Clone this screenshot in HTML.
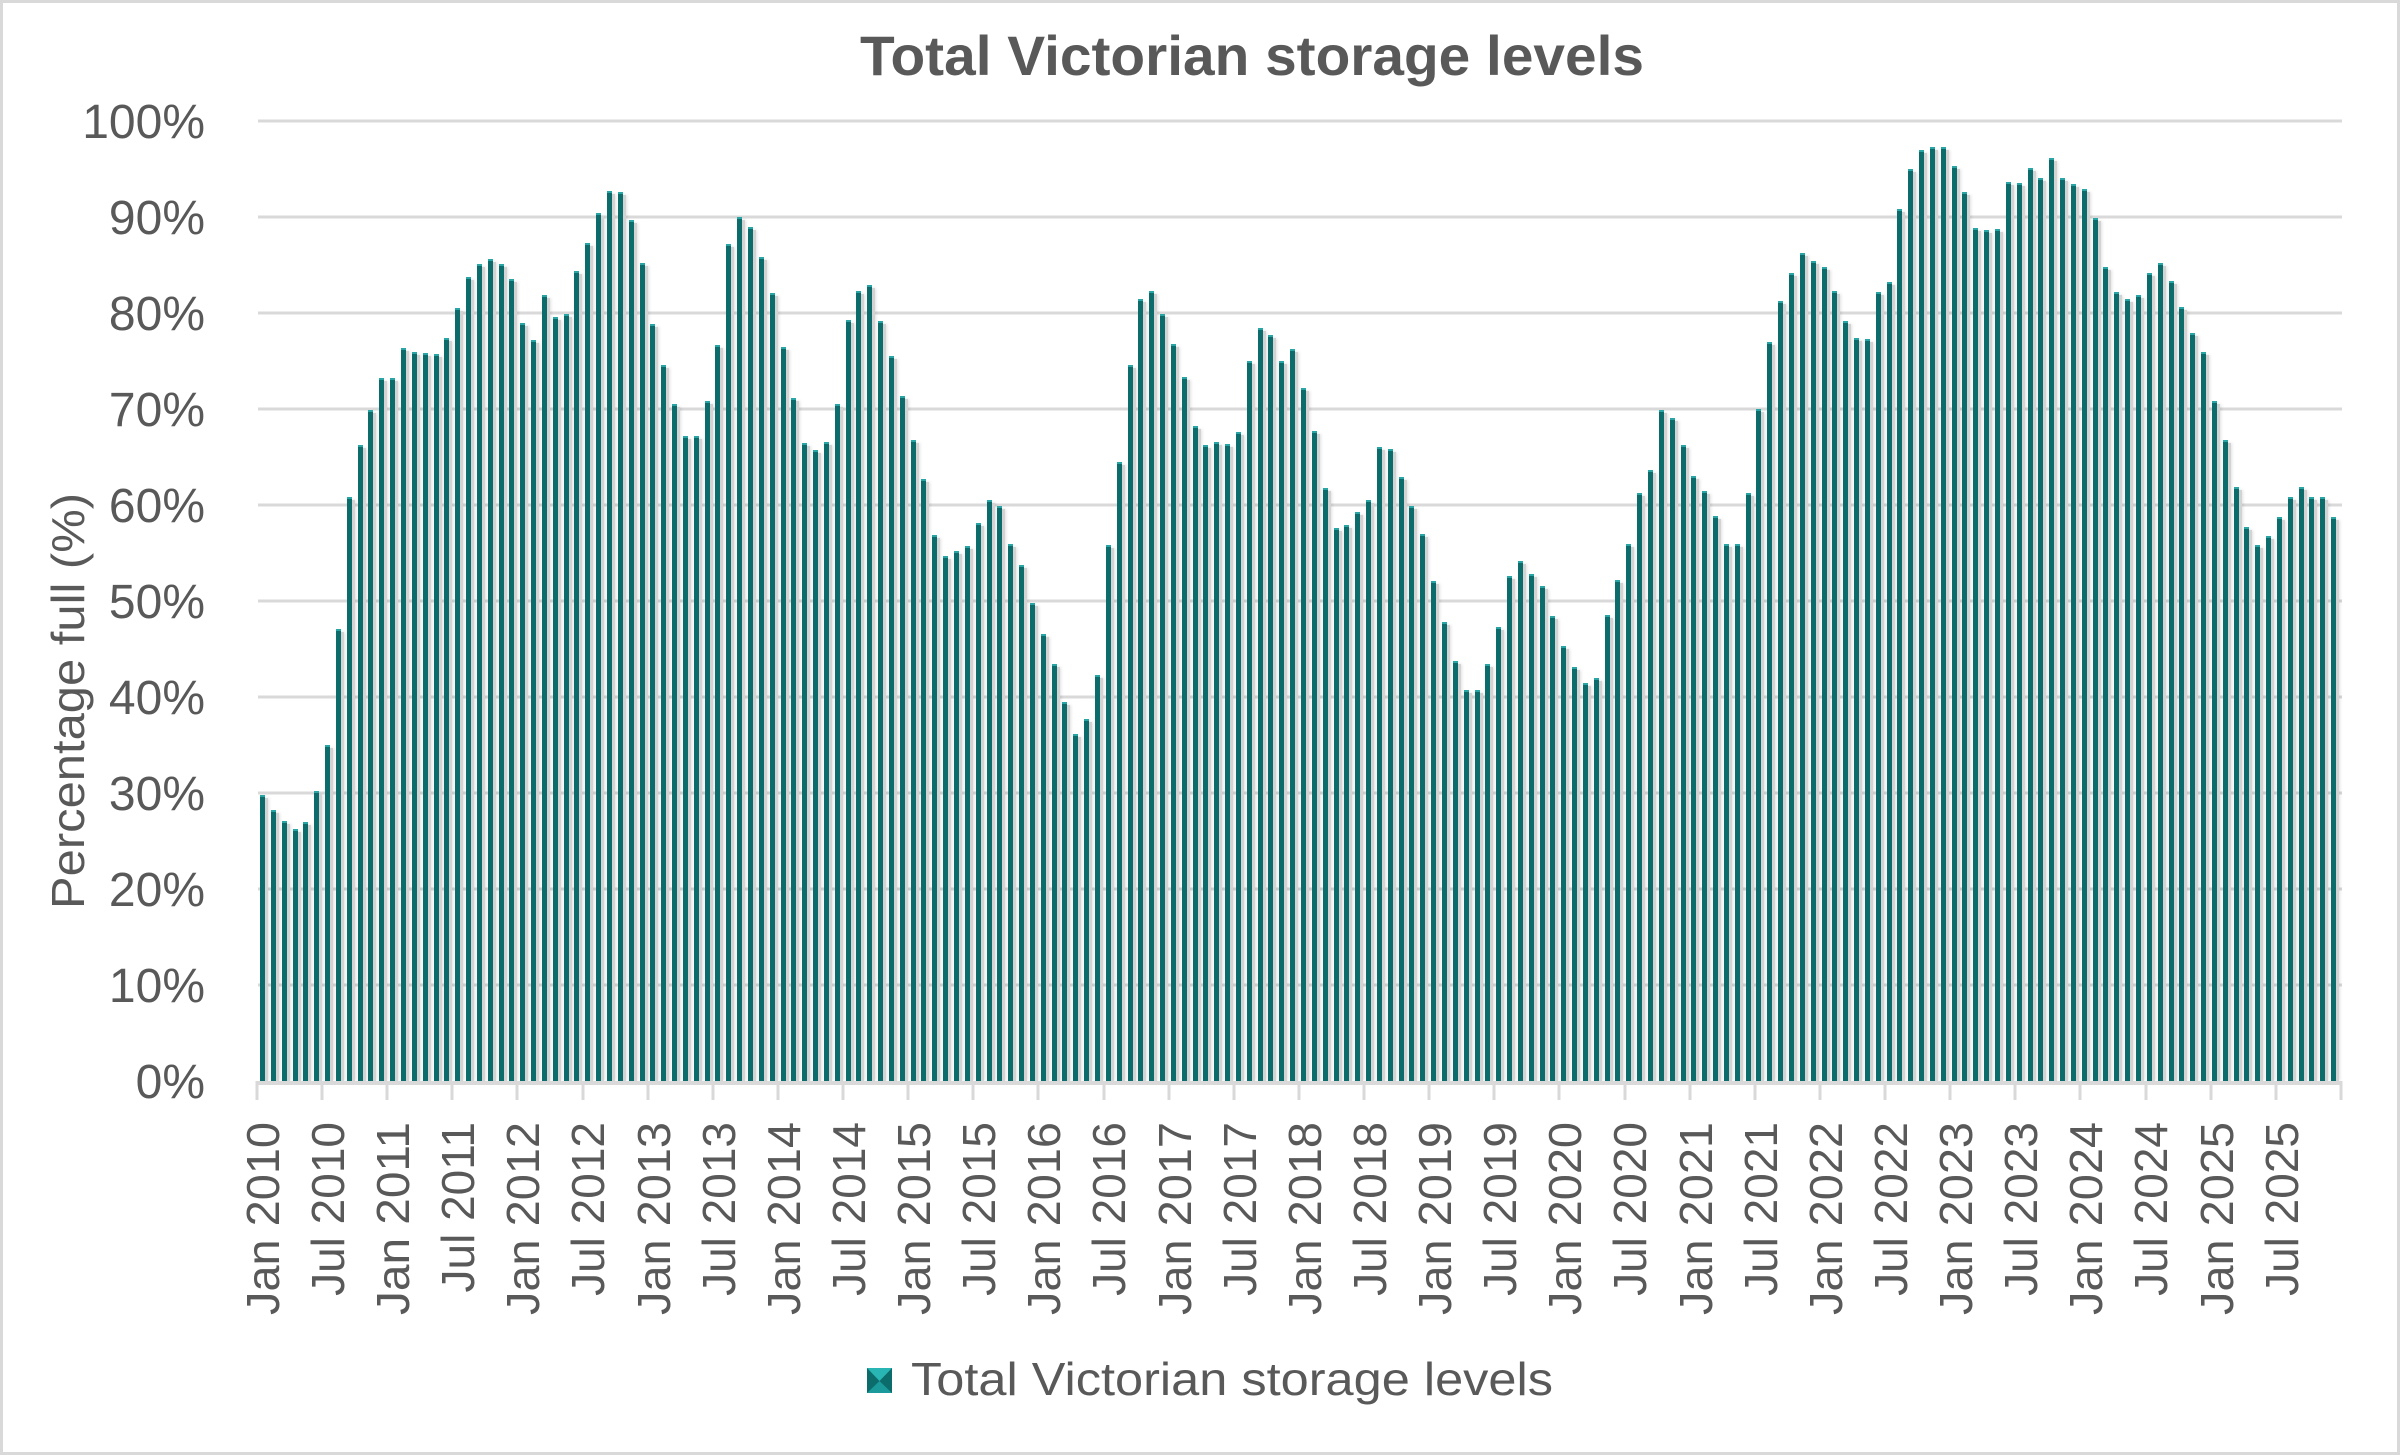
<!DOCTYPE html>
<html><head><meta charset="utf-8"><style>
html,body{margin:0;padding:0;background:#fff;}
#wrap{position:relative;width:2400px;height:1455px;overflow:hidden;background:#fff;}
svg{position:absolute;left:0;top:0;}
#bars{position:absolute;left:257px;top:121px;width:2083px;height:960px;display:flex;align-items:flex-end;}
#bars i{flex:1 1 0;position:relative;display:block;}
#bars i::after{content:"";position:absolute;left:4px;width:7px;top:3px;bottom:0;background:#d3d3d3;box-shadow:1px 0 3px rgba(0,0,0,0.12);}
#bars i::before{content:"";position:absolute;left:3px;width:5px;top:0;bottom:0;background:#0c6b6b;border-top:2px solid #2aa5a5;box-sizing:border-box;z-index:2;}
</style></head><body><div id="wrap">
<svg width="2400" height="1455" xmlns="http://www.w3.org/2000/svg">
<rect x="1.5" y="1.5" width="2397" height="1452" fill="#fff" stroke="#d9d9d9" stroke-width="3"/>
<g stroke="#d9d9d9" stroke-width="3">
<line x1="258" x2="2342" y1="121" y2="121"/><line x1="258" x2="2342" y1="217" y2="217"/>
<line x1="258" x2="2342" y1="313" y2="313"/><line x1="258" x2="2342" y1="409" y2="409"/>
<line x1="258" x2="2342" y1="505" y2="505"/><line x1="258" x2="2342" y1="601" y2="601"/>
<line x1="258" x2="2342" y1="697" y2="697"/><line x1="258" x2="2342" y1="793" y2="793"/>
<line x1="258" x2="2342" y1="889" y2="889"/><line x1="258" x2="2342" y1="985" y2="985"/>
</g>
<text x="1252" y="75" text-anchor="middle" font-family="Liberation Sans, sans-serif" font-weight="bold" font-size="56" fill="#595959" textLength="784" lengthAdjust="spacingAndGlyphs">Total Victorian storage levels</text>
<g font-family="Liberation Sans, sans-serif" font-size="48" fill="#595959" text-anchor="end">
<text x="205" y="138">100%</text><text x="205" y="234">90%</text><text x="205" y="330">80%</text>
<text x="205" y="426">70%</text><text x="205" y="522">60%</text><text x="205" y="618">50%</text>
<text x="205" y="714">40%</text><text x="205" y="810">30%</text><text x="205" y="906">20%</text>
<text x="205" y="1002">10%</text><text x="205" y="1098">0%</text>
</g>
<text transform="translate(84,701) rotate(-90)" text-anchor="middle" font-family="Liberation Sans, sans-serif" font-size="46" fill="#595959" textLength="416" lengthAdjust="spacingAndGlyphs">Percentage full (%)</text>
<text x="911" y="1395" font-family="Liberation Sans, sans-serif" font-size="46" fill="#595959" textLength="642" lengthAdjust="spacingAndGlyphs">Total Victorian storage levels</text>
<rect x="867" y="1368" width="25" height="25" fill="#0c6b6b"/>
<polygon points="867,1368 892,1368 879.5,1381" fill="#2ab5b5"/>
<polygon points="867,1393 892,1393 879.5,1381" fill="#1a9a9a"/>
<g font-family="Liberation Sans, sans-serif" font-size="46" fill="#595959" text-anchor="end">
<text transform="translate(279,1122) rotate(-90)" textLength="193" lengthAdjust="spacingAndGlyphs">Jan 2010</text>
<text transform="translate(344,1122) rotate(-90)">Jul 2010</text>
<text transform="translate(409,1122) rotate(-90)" textLength="193" lengthAdjust="spacingAndGlyphs">Jan 2011</text>
<text transform="translate(474,1122) rotate(-90)">Jul 2011</text>
<text transform="translate(539,1122) rotate(-90)" textLength="193" lengthAdjust="spacingAndGlyphs">Jan 2012</text>
<text transform="translate(604,1122) rotate(-90)">Jul 2012</text>
<text transform="translate(670,1122) rotate(-90)" textLength="193" lengthAdjust="spacingAndGlyphs">Jan 2013</text>
<text transform="translate(735,1122) rotate(-90)">Jul 2013</text>
<text transform="translate(800,1122) rotate(-90)" textLength="193" lengthAdjust="spacingAndGlyphs">Jan 2014</text>
<text transform="translate(865,1122) rotate(-90)">Jul 2014</text>
<text transform="translate(930,1122) rotate(-90)" textLength="193" lengthAdjust="spacingAndGlyphs">Jan 2015</text>
<text transform="translate(995,1122) rotate(-90)">Jul 2015</text>
<text transform="translate(1060,1122) rotate(-90)" textLength="193" lengthAdjust="spacingAndGlyphs">Jan 2016</text>
<text transform="translate(1125,1122) rotate(-90)">Jul 2016</text>
<text transform="translate(1191,1122) rotate(-90)" textLength="193" lengthAdjust="spacingAndGlyphs">Jan 2017</text>
<text transform="translate(1256,1122) rotate(-90)">Jul 2017</text>
<text transform="translate(1321,1122) rotate(-90)" textLength="193" lengthAdjust="spacingAndGlyphs">Jan 2018</text>
<text transform="translate(1386,1122) rotate(-90)">Jul 2018</text>
<text transform="translate(1451,1122) rotate(-90)" textLength="193" lengthAdjust="spacingAndGlyphs">Jan 2019</text>
<text transform="translate(1516,1122) rotate(-90)">Jul 2019</text>
<text transform="translate(1581,1122) rotate(-90)" textLength="193" lengthAdjust="spacingAndGlyphs">Jan 2020</text>
<text transform="translate(1646,1122) rotate(-90)">Jul 2020</text>
<text transform="translate(1712,1122) rotate(-90)" textLength="193" lengthAdjust="spacingAndGlyphs">Jan 2021</text>
<text transform="translate(1777,1122) rotate(-90)">Jul 2021</text>
<text transform="translate(1842,1122) rotate(-90)" textLength="193" lengthAdjust="spacingAndGlyphs">Jan 2022</text>
<text transform="translate(1907,1122) rotate(-90)">Jul 2022</text>
<text transform="translate(1972,1122) rotate(-90)" textLength="193" lengthAdjust="spacingAndGlyphs">Jan 2023</text>
<text transform="translate(2037,1122) rotate(-90)">Jul 2023</text>
<text transform="translate(2102,1122) rotate(-90)" textLength="193" lengthAdjust="spacingAndGlyphs">Jan 2024</text>
<text transform="translate(2167,1122) rotate(-90)">Jul 2024</text>
<text transform="translate(2233,1122) rotate(-90)" textLength="193" lengthAdjust="spacingAndGlyphs">Jan 2025</text>
<text transform="translate(2298,1122) rotate(-90)">Jul 2025</text>
</g>
</svg>
<div id="bars">
<i style="height:29.8%"></i><i style="height:28.2%"></i><i style="height:27.1%"></i><i style="height:26.3%"></i><i style="height:27.0%"></i><i style="height:30.2%"></i>
<i style="height:35.0%"></i><i style="height:47.1%"></i><i style="height:60.8%"></i><i style="height:66.3%"></i><i style="height:69.9%"></i><i style="height:73.2%"></i>
<i style="height:73.2%"></i><i style="height:76.4%"></i><i style="height:75.9%"></i><i style="height:75.8%"></i><i style="height:75.7%"></i><i style="height:77.4%"></i>
<i style="height:80.5%"></i><i style="height:83.8%"></i><i style="height:85.1%"></i><i style="height:85.6%"></i><i style="height:85.1%"></i><i style="height:83.5%"></i>
<i style="height:79.0%"></i><i style="height:77.2%"></i><i style="height:81.9%"></i><i style="height:79.6%"></i><i style="height:79.9%"></i><i style="height:84.4%"></i>
<i style="height:87.3%"></i><i style="height:90.4%"></i><i style="height:92.7%"></i><i style="height:92.6%"></i><i style="height:89.7%"></i><i style="height:85.2%"></i>
<i style="height:78.9%"></i><i style="height:74.6%"></i><i style="height:70.5%"></i><i style="height:67.2%"></i><i style="height:67.2%"></i><i style="height:70.8%"></i>
<i style="height:76.7%"></i><i style="height:87.2%"></i><i style="height:90.0%"></i><i style="height:89.0%"></i><i style="height:85.8%"></i><i style="height:82.1%"></i>
<i style="height:76.5%"></i><i style="height:71.1%"></i><i style="height:66.5%"></i><i style="height:65.7%"></i><i style="height:66.6%"></i><i style="height:70.5%"></i>
<i style="height:79.3%"></i><i style="height:82.3%"></i><i style="height:82.9%"></i><i style="height:79.2%"></i><i style="height:75.5%"></i><i style="height:71.4%"></i>
<i style="height:66.8%"></i><i style="height:62.7%"></i><i style="height:56.9%"></i><i style="height:54.7%"></i><i style="height:55.2%"></i><i style="height:55.7%"></i>
<i style="height:58.1%"></i><i style="height:60.5%"></i><i style="height:59.9%"></i><i style="height:55.9%"></i><i style="height:53.8%"></i><i style="height:49.8%"></i>
<i style="height:46.6%"></i><i style="height:43.4%"></i><i style="height:39.5%"></i><i style="height:36.1%"></i><i style="height:37.7%"></i><i style="height:42.3%"></i>
<i style="height:55.8%"></i><i style="height:64.5%"></i><i style="height:74.6%"></i><i style="height:81.5%"></i><i style="height:82.3%"></i><i style="height:79.9%"></i>
<i style="height:76.8%"></i><i style="height:73.3%"></i><i style="height:68.2%"></i><i style="height:66.2%"></i><i style="height:66.6%"></i><i style="height:66.4%"></i>
<i style="height:67.6%"></i><i style="height:75.0%"></i><i style="height:78.4%"></i><i style="height:77.7%"></i><i style="height:75.0%"></i><i style="height:76.2%"></i>
<i style="height:72.2%"></i><i style="height:67.7%"></i><i style="height:61.8%"></i><i style="height:57.6%"></i><i style="height:57.9%"></i><i style="height:59.3%"></i>
<i style="height:60.5%"></i><i style="height:66.0%"></i><i style="height:65.8%"></i><i style="height:62.9%"></i><i style="height:59.9%"></i><i style="height:57.0%"></i>
<i style="height:52.1%"></i><i style="height:47.8%"></i><i style="height:43.7%"></i><i style="height:40.7%"></i><i style="height:40.7%"></i><i style="height:43.4%"></i>
<i style="height:47.3%"></i><i style="height:52.6%"></i><i style="height:54.2%"></i><i style="height:52.8%"></i><i style="height:51.6%"></i><i style="height:48.4%"></i>
<i style="height:45.3%"></i><i style="height:43.1%"></i><i style="height:41.5%"></i><i style="height:42.0%"></i><i style="height:48.5%"></i><i style="height:52.2%"></i>
<i style="height:55.9%"></i><i style="height:61.2%"></i><i style="height:63.6%"></i><i style="height:69.9%"></i><i style="height:69.1%"></i><i style="height:66.2%"></i>
<i style="height:63.0%"></i><i style="height:61.5%"></i><i style="height:58.9%"></i><i style="height:55.9%"></i><i style="height:55.9%"></i><i style="height:61.2%"></i>
<i style="height:70.0%"></i><i style="height:77.0%"></i><i style="height:81.3%"></i><i style="height:84.2%"></i><i style="height:86.2%"></i><i style="height:85.4%"></i>
<i style="height:84.8%"></i><i style="height:82.3%"></i><i style="height:79.2%"></i><i style="height:77.4%"></i><i style="height:77.3%"></i><i style="height:82.2%"></i>
<i style="height:83.2%"></i><i style="height:90.8%"></i><i style="height:95.0%"></i><i style="height:97.0%"></i><i style="height:97.3%"></i><i style="height:97.3%"></i>
<i style="height:95.3%"></i><i style="height:92.6%"></i><i style="height:88.9%"></i><i style="height:88.6%"></i><i style="height:88.8%"></i><i style="height:93.6%"></i>
<i style="height:93.5%"></i><i style="height:95.1%"></i><i style="height:94.1%"></i><i style="height:96.1%"></i><i style="height:94.1%"></i><i style="height:93.4%"></i>
<i style="height:92.9%"></i><i style="height:89.9%"></i><i style="height:84.8%"></i><i style="height:82.2%"></i><i style="height:81.5%"></i><i style="height:81.9%"></i>
<i style="height:84.2%"></i><i style="height:85.2%"></i><i style="height:83.3%"></i><i style="height:80.6%"></i><i style="height:77.9%"></i><i style="height:75.9%"></i>
<i style="height:70.8%"></i><i style="height:66.8%"></i><i style="height:61.9%"></i><i style="height:57.7%"></i><i style="height:55.8%"></i><i style="height:56.8%"></i>
<i style="height:58.8%"></i><i style="height:60.8%"></i><i style="height:61.9%"></i><i style="height:60.8%"></i><i style="height:60.8%"></i><i style="height:58.8%"></i>
</div>
<svg width="2400" height="1455" xmlns="http://www.w3.org/2000/svg" style="pointer-events:none">
<g stroke="#d9d9d9" stroke-width="4">
<line x1="256" x2="2342" y1="1083" y2="1083"/>
</g>
<g stroke="#d9d9d9" stroke-width="3">
<line x1="257" x2="257" y1="1081" y2="1100"/><line x1="322" x2="322" y1="1081" y2="1100"/><line x1="387" x2="387" y1="1081" y2="1100"/><line x1="452" x2="452" y1="1081" y2="1100"/>
<line x1="517" x2="517" y1="1081" y2="1100"/><line x1="583" x2="583" y1="1081" y2="1100"/><line x1="648" x2="648" y1="1081" y2="1100"/><line x1="713" x2="713" y1="1081" y2="1100"/>
<line x1="778" x2="778" y1="1081" y2="1100"/><line x1="843" x2="843" y1="1081" y2="1100"/><line x1="908" x2="908" y1="1081" y2="1100"/><line x1="973" x2="973" y1="1081" y2="1100"/>
<line x1="1038" x2="1038" y1="1081" y2="1100"/><line x1="1104" x2="1104" y1="1081" y2="1100"/><line x1="1169" x2="1169" y1="1081" y2="1100"/><line x1="1234" x2="1234" y1="1081" y2="1100"/>
<line x1="1299" x2="1299" y1="1081" y2="1100"/><line x1="1364" x2="1364" y1="1081" y2="1100"/><line x1="1429" x2="1429" y1="1081" y2="1100"/><line x1="1494" x2="1494" y1="1081" y2="1100"/>
<line x1="1559" x2="1559" y1="1081" y2="1100"/><line x1="1625" x2="1625" y1="1081" y2="1100"/><line x1="1690" x2="1690" y1="1081" y2="1100"/><line x1="1755" x2="1755" y1="1081" y2="1100"/>
<line x1="1820" x2="1820" y1="1081" y2="1100"/><line x1="1885" x2="1885" y1="1081" y2="1100"/><line x1="1950" x2="1950" y1="1081" y2="1100"/><line x1="2015" x2="2015" y1="1081" y2="1100"/>
<line x1="2080" x2="2080" y1="1081" y2="1100"/><line x1="2146" x2="2146" y1="1081" y2="1100"/><line x1="2211" x2="2211" y1="1081" y2="1100"/><line x1="2276" x2="2276" y1="1081" y2="1100"/>
<line x1="2341" x2="2341" y1="1081" y2="1100"/>
</g>
</svg>
</div></body></html>
